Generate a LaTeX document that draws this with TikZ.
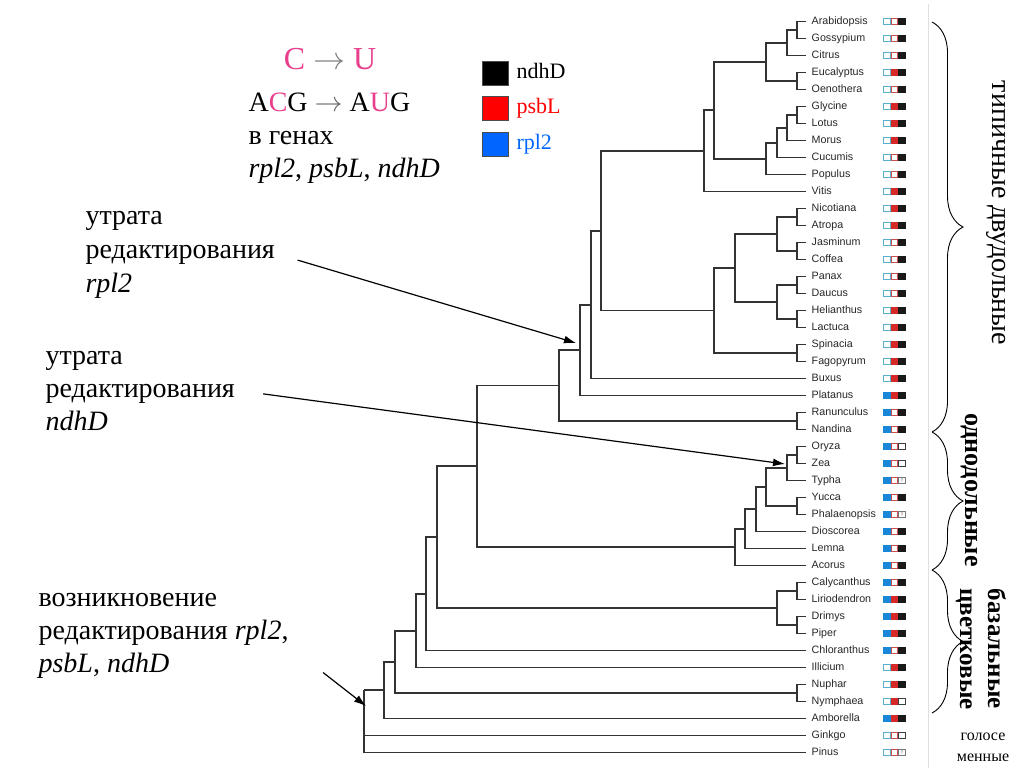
\documentclass[tikz,border=0pt]{standalone}
\usepackage{fix-cm}
\usepackage{fontspec}
\setmainfont{Liberation Serif}
\newfontfamily\taxonfont{Liberation Sans}
\usetikzlibrary{positioning}
\usetikzlibrary{arrows.meta}
\usetikzlibrary{decorations.pathreplacing}

\definecolor{edpink}{RGB}{232,62,140}
\definecolor{lgred}{RGB}{255,0,0}
\definecolor{lgblue}{RGB}{0,102,255}
% box colours: fill and outline per state (0 no editing, 1 editing, 2 unknown)
\definecolor{rpl0}{RGB}{255,255,255}
\definecolor{rpl1}{RGB}{25,135,215}
\definecolor{rplline0}{RGB}{90,175,205}
\definecolor{rplline1}{RGB}{25,135,215}
\definecolor{psb0}{RGB}{255,255,255}
\definecolor{psb1}{RGB}{215,40,40}
\definecolor{psbline0}{RGB}{205,80,80}
\definecolor{psbline1}{RGB}{215,40,40}
\definecolor{ndh0}{RGB}{255,255,255}
\definecolor{ndh1}{RGB}{25,25,25}
\definecolor{ndh2}{RGB}{255,255,255}
\definecolor{ndhline0}{RGB}{60,60,60}
\definecolor{ndhline1}{RGB}{25,25,25}
\definecolor{ndhline2}{RGB}{120,120,120}

\begin{document}
\begin{tikzpicture}[x=1pt, y=-1pt,
    branch/.style={line width=1.8pt, draw=black!80},
    taxon/.style={anchor=west, inner xsep=5.5pt, inner ysep=0pt, text height=7.8pt, text depth=2.2pt,
        font=\taxonfont\fontsize{10.7}{12}\selectfont, text=black!85},
    gbox/.style={draw, minimum width=6.5pt, minimum height=6pt, inner sep=0pt, line width=0.8pt,
        font=\taxonfont\fontsize{5}{5}\selectfont, text=black!60},
    notetxt/.style={anchor=base west, align=left, font=\fontsize{28}{34}\selectfont},
    edarrow/.style={line width=1.2pt, -{Latex[length=12pt, width=8pt]}},
    lgsq/.style={draw=black!70, line width=0.6pt, minimum width=26pt, minimum height=24pt, inner sep=0pt},
    lgtxt/.style={font=\fontsize{22}{26}\selectfont, text height=14pt, text depth=4pt, inner sep=0pt},
    cladebrace/.style={decorate, decoration={brace, amplitude=31pt, aspect=0.5}, line width=0.9pt},
    grouplbl/.style={rotate=-90, align=center, font=\fontsize{28}{34}\selectfont}]
    \useasboundingbox (0,0) rectangle (1024,768);

    % leaves and editing boxes (rpl2 / psbL / ndhD)
    \foreach \name/\ra/\pb/\nd [count=\i from 0] in {Arabidopsis/0/0/1, Gossypium/0/0/1, Citrus/0/0/1,
        Eucalyptus/0/1/1, Oenothera/0/0/1, Glycine/0/1/1, Lotus/0/1/1, Morus/0/1/1, Cucumis/0/0/1,
        Populus/0/0/1, Vitis/0/1/1, Nicotiana/0/1/1, Atropa/0/1/1, Jasminum/0/0/1, Coffea/0/0/1,
        Panax/0/0/1, Daucus/0/0/1, Helianthus/0/1/1, Lactuca/0/1/1, Spinacia/0/1/1, Fagopyrum/0/1/1,
        Buxus/0/1/1, Platanus/1/1/1, Ranunculus/1/0/1, Nandina/1/0/1, Oryza/1/0/0, Zea/1/0/0,
        Typha/1/0/2, Yucca/1/0/1, Phalaenopsis/1/0/2, Dioscorea/1/0/1, Lemna/1/0/1, Acorus/1/0/1,
        Calycanthus/1/0/1, Liriodendron/1/1/1, Drimys/1/1/1, Piper/1/1/1, Chloranthus/1/0/1,
        Illicium/0/1/1, Nuphar/0/1/1, Nymphaea/0/1/0, Amborella/1/1/1, Ginkgo/0/0/0, Pinus/0/0/2} {
        \node[taxon] (\name) at (806,{21.5+17*\i}) {\name};
        \node[gbox, fill=rpl\ra, draw=rplline\ra] (\name-r) at (887,{21.5+17*\i}) {};
        \node[gbox, fill=psb\pb, draw=psbline\pb] (\name-p) at (894.5,{21.5+17*\i}) {};
        \node[gbox, fill=ndh\nd, draw=ndhline\nd] (\name-n) at (902,{21.5+17*\i}) {\ifnum\nd=2 ?\fi};
    }

    % inner nodes of the tree
    \foreach \n/\x/\y in {ag/797/30, agc/787/42.75, eo/797/81, agceo/766/61.9, gl/797/115,
        glm/787/127.75, glmc/777/142.6, glmcp/766/158.6, ros/714/110.2, rosv/704/150.9,
        na/797/217, jc/797/251, najc/777/234, pd/797/285, hl/797/319, pdhl/777/302, ast/735/268,
        sf/797/353, astcar/714/310.5, core/601/230.7, coreb/591/304.6, corebp/580/350,
        rn/797/421, eud/559/385.5, oz/797/455, ozt/787/467.75, yp/797/506, mA/766/486.9,
        mB/756/509.2, mC/745/528.8, mD/735/547.2, eudmono/477/466.3, cl/797/591, dp/797/625,
        magn/777/608, mesA/437/537.2, mesB/426/593.8, mesC/416/630.7, np/797/693,
        angA/395/661.8, ang/384/690.2, root/364/690.2}
        \coordinate (\n) at (\x,\y);

    \foreach \p/\c in {ag/Arabidopsis, ag/Gossypium, agc/Citrus, eo/Eucalyptus, eo/Oenothera,
        gl/Glycine, gl/Lotus, glm/Morus, glmc/Cucumis, glmcp/Populus, rosv/Vitis,
        na/Nicotiana, na/Atropa, jc/Jasminum, jc/Coffea, pd/Panax, pd/Daucus, hl/Helianthus,
        hl/Lactuca, sf/Spinacia, sf/Fagopyrum, coreb/Buxus, corebp/Platanus, rn/Ranunculus,
        rn/Nandina, oz/Oryza, oz/Zea, ozt/Typha, yp/Yucca, yp/Phalaenopsis, mB/Dioscorea,
        mC/Lemna, mD/Acorus, cl/Calycanthus, cl/Liriodendron, dp/Drimys, dp/Piper,
        mesB/Chloranthus, mesC/Illicium, np/Nuphar, np/Nymphaea, ang/Amborella,
        root/Ginkgo, root/Pinus}
        \draw[branch] (\p) |- (\c.west);
    \foreach \p/\c in {agc/ag, agceo/agc, agceo/eo, glm/gl, glmc/glm, glmcp/glmc, ros/agceo,
        ros/glmcp, rosv/ros, najc/na, najc/jc, pdhl/pd, pdhl/hl, ast/najc, ast/pdhl, astcar/ast,
        astcar/sf, core/rosv, core/astcar, coreb/core, corebp/coreb, eud/corebp, eud/rn,
        ozt/oz, mA/ozt, mA/yp, mB/mA, mC/mB, mD/mC, eudmono/eud, eudmono/mD, magn/cl, magn/dp,
        mesA/eudmono, mesA/magn, mesB/mesA, mesC/mesB, angA/mesC, angA/np, ang/angA, root/ang}
        \draw[branch] (\p) |- (\c);

    % editing C -> U and legend
    \node[font=\fontsize{32}{36}\selectfont, anchor=base] (cu) at (330,70)
        {\textcolor{edpink}{C} \textcolor{gray}{$\rightarrow$} \textcolor{edpink}{U}};
    \node[notetxt, font=\fontsize{28}{33}\selectfont] (codon) at (245,177)
        {A\textcolor{edpink}{C}G \textcolor{black!60}{$\rightarrow$} A\textcolor{edpink}{U}G\\в генах\\\textit{rpl2}, \textit{psbL}, \textit{ndhD}};
    \node[lgsq, fill=black] (sqndh) at (495,73) {};
    \node[lgsq, fill=lgred, below=11pt of sqndh] (sqpsb) {};
    \node[lgsq, fill=lgblue, below=11pt of sqpsb] (sqrpl) {};
    \node[lgtxt, right=8pt of sqndh] (lgndh) {ndhD};
    \node[lgtxt, text=lgred, right=8pt of sqpsb] (lgpsb) {psbL};
    \node[lgtxt, text=lgblue, right=8pt of sqrpl] (lgrpl) {rpl2};

    % events on the tree
    \coordinate (rpltip) at (576,343);
    \coordinate (ndhtip) at (785,464);
    \coordinate (gaintip) at (366,706);
    \node[notetxt] (rpllbl) at (82,292) {утрата\\редактирования\\\textit{rpl2}};
    \node[notetxt, font=\fontsize{28}{33}\selectfont] (ndhlbl) at (42,430) {утрата\\редактирования\\\textit{ndhD}};
    \node[notetxt, font=\fontsize{28}{33}\selectfont] (gainlbl) at (35,672)
        {возникновение\\редактирования \textit{rpl2},\\\textit{psbL}, \textit{ndhD}};
    \draw[edarrow, shorten <=20pt] (rpllbl.east) -- (rpltip);
    \draw[edarrow, shorten <=25pt] (ndhlbl.east) -- (ndhtip);
    \draw[edarrow] ([shift={(31,-9)}]gainlbl.south east) -- (gaintip);

    % groups
    \draw[black!12, line width=1pt] (928,4) -- (928,768);
    \draw[cladebrace] (932,22) -- (932,432);
    \draw[cladebrace] (932,432) -- (932,570);
    \draw[cladebrace] (932,570) -- (932,713);
    \node[grouplbl] (dicots) at (996,213) {типичные двудольные};
    \node[grouplbl, font=\bfseries\fontsize{26}{30}\selectfont] (monocots) at (969,490) {однодольные};
    \node[grouplbl, font=\bfseries\fontsize{25}{28}\selectfont] (basal) at (981,649) {базальные\\цветковые};
    \node[font=\fontsize{16}{21}\selectfont, align=center] (gymno) at (983,747) {голосе\\менные};
\end{tikzpicture}
\end{document}
